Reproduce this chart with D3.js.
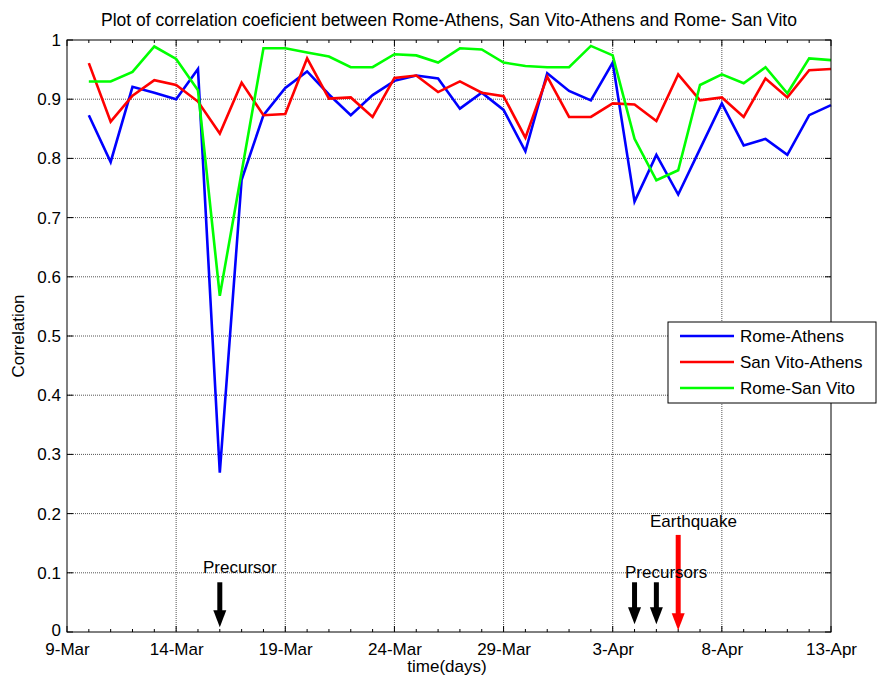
<!DOCTYPE html>
<html>
<head>
<meta charset="utf-8">
<script src="https://cdn.jsdelivr.net/npm/d3@7"></script>
<style>
  body { margin: 0; background: #fff; }
  text { font-family: "Liberation Sans", Arial, sans-serif; }
</style>
</head>
<body>
<script>
// data: one value per day, 10-Mar-2009 .. 13-Apr-2009
var startDay = "2009-03-10";
var romeAthens = [0.873, 0.794, 0.921, 0.911, 0.900, 0.951, 0.269, 0.764, 0.873, 0.919,
  0.947, 0.908, 0.873, 0.907, 0.931, 0.940, 0.935, 0.884, 0.911, 0.882,
  0.812, 0.944, 0.914, 0.898, 0.962, 0.727, 0.806, 0.739, 0.816, 0.893,
  0.822, 0.833, 0.806, 0.873, 0.890];
var sanVitoAthens = [0.961, 0.862, 0.906, 0.932, 0.924, 0.896, 0.842, 0.928, 0.873, 0.875,
  0.969, 0.901, 0.903, 0.870, 0.936, 0.940, 0.912, 0.930, 0.911, 0.905,
  0.835, 0.938, 0.870, 0.870, 0.893, 0.891, 0.863, 0.942, 0.898, 0.903,
  0.870, 0.935, 0.903, 0.949, 0.951];
var romeSanVito = [0.930, 0.930, 0.946, 0.989, 0.968, 0.915, 0.568, 0.777, 0.986, 0.986,
  0.979, 0.972, 0.954, 0.954, 0.976, 0.974, 0.962, 0.986, 0.984, 0.962,
  0.956, 0.954, 0.954, 0.990, 0.974, 0.833, 0.763, 0.780, 0.924, 0.942,
  0.927, 0.954, 0.910, 0.969, 0.966];
var seriesNames = ["Rome-Athens", "San Vito-Athens", "Rome-San Vito"];
var seriesColors = ["#0000ff", "#ff0000", "#00ff00"];
var yTicks = [0, 0.1, 0.2, 0.3, 0.4, 0.5, 0.6, 0.7, 0.8, 0.9, 1];
var xTickDates = ["2009-03-09", "2009-03-14", "2009-03-19", "2009-03-24", "2009-03-29", "2009-04-03", "2009-04-08", "2009-04-13"];

// arrows: date, top value, tip value
var precursorArrows = [["2009-03-16", 0.084, 0.008], ["2009-04-04", 0.084, 0.013], ["2009-04-05", 0.084, 0.013]];
var quakeArrow = ["2009-04-06", 0.164, 0.003];
var notes = [["Precursor", "2009-03-16", 0.100, 203], ["Precursors", "2009-04-04", 0.092, 625], ["Earthquake", "2009-04-06", 0.178, 650]];

var parse = d3.timeParse("%Y-%m-%d");
var margin = {top: 40, right: 47, bottom: 50, left: 67},
  W = 878, H = 682,
  width = W - margin.left - margin.right,
  height = H - margin.top - margin.bottom;

var svg = d3.select("body").append("svg")
    .attr("width", W)
    .attr("height", H);
var g = svg.append("g")
    .attr("transform", "translate(" + margin.left + "," + margin.top + ")");

var x = d3.scaleTime()
    .domain([parse("2009-03-09"), parse("2009-04-13")])
    .range([0, width]);
var y = d3.scaleLinear().domain([0, 1]).range([height, 0]);

var majorX = xTickDates.map(parse);
var minorX = d3.timeDay.range(parse("2009-03-09"), d3.timeDay.offset(parse("2009-04-13"), 1));

// grid (dotted)
g.append("g").selectAll("line")
    .data(majorX.slice(1, -1))
  .enter().append("line")
    .attr("x1", function(d) { return x(d); }).attr("x2", function(d) { return x(d); })
    .attr("y1", 0).attr("y2", height)
    .attr("stroke", "#555").attr("stroke-dasharray", "1,1");
g.append("g").selectAll("line")
    .data(yTicks.slice(1, -1))
  .enter().append("line")
    .attr("y1", function(d) { return y(d); }).attr("y2", function(d) { return y(d); })
    .attr("x1", 0).attr("x2", width)
    .attr("stroke", "#555").attr("stroke-dasharray", "1,1");

// axes
var fmt = d3.timeFormat("%-d-%b");
var xAxis = g.append("g")
    .attr("transform", "translate(0," + height + ")")
    .call(d3.axisBottom(x).tickValues(majorX).tickFormat(fmt).tickSize(0).tickPadding(11));
xAxis.select(".domain").remove();
xAxis.selectAll("text").attr("font-size", 17).attr("fill", "#000")
    .attr("font-family", "Liberation Sans, Arial, sans-serif");

var yAxis = g.append("g")
    .call(d3.axisLeft(y).tickValues(yTicks).tickFormat(d3.format("")).tickSize(0).tickPadding(6));
yAxis.select(".domain").remove();
yAxis.selectAll("text").attr("font-size", 17).attr("fill", "#000")
    .attr("font-family", "Liberation Sans, Arial, sans-serif");
// the "0" sits a touch high so it clears the date below it
yAxis.selectAll("text").filter(function(d) { return d === 0; }).attr("dy", "0.2em");

// inward ticks, both sides
var ticks = g.append("g").attr("stroke", "#000").attr("stroke-width", 1);
minorX.forEach(function(d) {
  var isMajor = majorX.some(function(m) { return +m === +d; });
  var len = isMajor ? 6 : 3;
  ticks.append("line").attr("x1", x(d)).attr("x2", x(d)).attr("y1", height).attr("y2", height - len);
  ticks.append("line").attr("x1", x(d)).attr("x2", x(d)).attr("y1", 0).attr("y2", len);
});
yTicks.forEach(function(v) {
  ticks.append("line").attr("x1", 0).attr("x2", 6).attr("y1", y(v)).attr("y2", y(v));
  ticks.append("line").attr("x1", width).attr("x2", width - 6).attr("y1", y(v)).attr("y2", y(v));
});

// series lines
var allSeries = [romeAthens, sanVitoAthens, romeSanVito];
var line = d3.line()
    .x(function(d, i) { return x(d3.timeDay.offset(parse(startDay), i)); })
    .y(function(d) { return y(d); });
allSeries.forEach(function(s, k) {
  g.append("path")
      .datum(s)
      .attr("d", line)
      .attr("fill", "none")
      .attr("stroke", seriesColors[k])
      .attr("stroke-width", 2.6)
      .attr("stroke-linejoin", "miter");
});

// box
g.append("rect")
    .attr("width", width).attr("height", height)
    .attr("fill", "none").attr("stroke", "#000").attr("stroke-width", 1);

// arrows
function arrow(a, color) {
  var ax = x(parse(a[0])), y0 = y(a[1]), y1 = y(a[2]);
  g.append("line").attr("x1", ax).attr("x2", ax).attr("y1", y0).attr("y2", y1 - 12)
      .attr("stroke", color).attr("stroke-width", 5);
  g.append("path")
      .attr("d", "M" + (ax - 6.5) + "," + (y1 - 17) + "L" + (ax + 6.5) + "," + (y1 - 17) + "L" + ax + "," + y1 + "Z")
      .attr("fill", color);
}
precursorArrows.forEach(function(a) { arrow(a, "#000"); });
arrow(quakeArrow, "#ff0000");

notes.forEach(function(n) {
  svg.append("text")
      .attr("x", n[3])
      .attr("y", margin.top + y(n[2]))
      .attr("font-size", 17)
      .text(n[0]);
});

// title and labels
svg.append("text")
    .attr("x", margin.left + width / 2).attr("y", 26)
    .attr("text-anchor", "middle").attr("font-size", 17.5)
    .text("Plot of correlation coeficient between Rome-Athens, San Vito-Athens and Rome- San Vito");
svg.append("text")
    .attr("x", margin.left + width / 2 - 2).attr("y", 672)
    .attr("text-anchor", "middle").attr("font-size", 17)
    .text("time(days)");
svg.append("text")
    .attr("transform", "translate(24," + (margin.top + height / 2) + ") rotate(-90)")
    .attr("text-anchor", "middle").attr("font-size", 17)
    .text("Correlation");

// legend
var lg = svg.append("g").attr("transform", "translate(668,322)");
lg.append("rect").attr("width", 208).attr("height", 81)
    .attr("fill", "#fff").attr("stroke", "#000").attr("stroke-width", 1);
seriesNames.forEach(function(name, k) {
  var ly = 14 + k * 26;
  lg.append("line").attr("x1", 12).attr("x2", 66).attr("y1", ly).attr("y2", ly)
      .attr("stroke", seriesColors[k]).attr("stroke-width", 2.6);
  lg.append("text").attr("x", 72).attr("y", ly + 6).attr("font-size", 17).text(name);
});
</script>
</body>
</html>
